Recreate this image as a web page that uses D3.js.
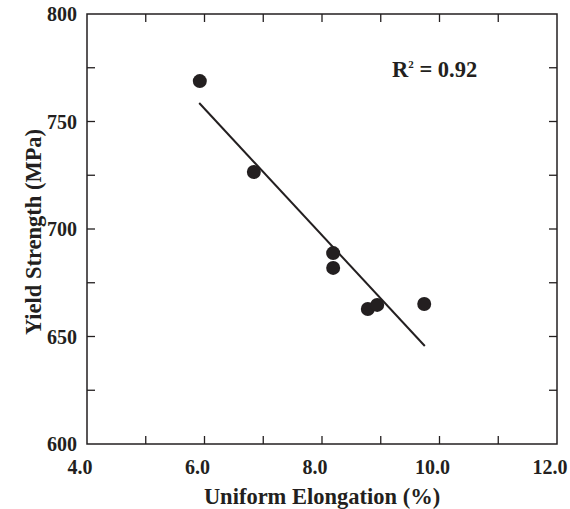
<!DOCTYPE html>
<html>
<head>
<meta charset="utf-8">
<script src="https://cdn.jsdelivr.net/npm/d3@7"></script>
<style>
  body { margin: 0; background: #fff; }
  text { font-family: "Liberation Serif", "Times New Roman", serif; font-weight: bold; fill: #231f20; }
</style>
</head>
<body>
<div id="chart"></div>
<script>
// measured points
const elongation = [5.92, 6.84, 8.19, 8.19, 8.78, 8.94, 9.74];
const yieldStrength = [768.8, 726.5, 688.8, 681.9, 662.8, 664.7, 665.1];

// linear fit as drawn
const fitX = [5.91, 9.75];
const fitY = [758.6, 645.6];

const xTicks = [4, 6, 8, 10, 12];
const xMinor = [5, 7, 9, 11];
const yTicks = [600, 650, 700, 750, 800];
const yMinor = [625, 675, 725, 775];

const width = 570;
const height = 509;
const margin = { top: 14, right: 13, bottom: 65, left: 87 };
const ink = '#231f20';

const svg = d3.select('#chart')
    .append('svg')
        .attr('width', width)
        .attr('height', height);

const x = d3.scaleLinear()
    .domain([4, 12])
    .range([margin.left, width - margin.right]);

const y = d3.scaleLinear()
    .domain([600, 800])
    .range([height - margin.bottom, margin.top]);

const x0 = x.range()[0], x1 = x.range()[1];
const y0 = y.range()[0], y1 = y.range()[1];

// frame
svg.append('rect')
    .attr('x', x0)
    .attr('y', y1)
    .attr('width', x1 - x0)
    .attr('height', y0 - y1)
    .attr('fill', 'none')
    .attr('stroke', ink)
    .attr('stroke-width', 1.5);

// inward ticks on all four sides
const tickLen = 8;
const allX = xTicks.concat(xMinor).filter(v => v > 4 && v < 12);
const allY = yTicks.concat(yMinor).filter(v => v > 600 && v < 800);

svg.append('g').selectAll('line')
    .data(allX)
    .join('line')
        .attr('x1', d => x(d)).attr('x2', d => x(d))
        .attr('y1', y0).attr('y2', y0 - tickLen)
        .attr('stroke', ink).attr('stroke-width', 1.3);

svg.append('g').selectAll('line')
    .data(allX)
    .join('line')
        .attr('x1', d => x(d)).attr('x2', d => x(d))
        .attr('y1', y1).attr('y2', y1 + tickLen)
        .attr('stroke', ink).attr('stroke-width', 1.3);

svg.append('g').selectAll('line')
    .data(allY)
    .join('line')
        .attr('x1', x0).attr('x2', x0 + tickLen)
        .attr('y1', d => y(d)).attr('y2', d => y(d))
        .attr('stroke', ink).attr('stroke-width', 1.3);

svg.append('g').selectAll('line')
    .data(allY)
    .join('line')
        .attr('x1', x1).attr('x2', x1 - tickLen)
        .attr('y1', d => y(d)).attr('y2', d => y(d))
        .attr('stroke', ink).attr('stroke-width', 1.3);

// tick labels
svg.append('g').selectAll('text')
    .data(xTicks)
    .join('text')
        .attr('x', d => x(d) - 7)
        .attr('y', y0 + 30)
        .attr('text-anchor', 'middle')
        .attr('font-size', 20)
        .text(d => d.toFixed(1));

svg.append('g').selectAll('text')
    .data(yTicks)
    .join('text')
        .attr('x', x0 - 10)
        .attr('y', d => y(d) + 7)
        .attr('text-anchor', 'end')
        .attr('font-size', 20)
        .text(d => d);

// axis titles
svg.append('text')
    .attr('x', (x0 + x1) / 2)
    .attr('y', 504)
    .attr('text-anchor', 'middle')
    .attr('font-size', 22.5)
    .text('Uniform Elongation (%)');

svg.append('text')
    .attr('transform', `translate(41, ${(y0 + y1) / 2 + 3}) rotate(-90)`)
    .attr('text-anchor', 'middle')
    .attr('font-size', 22.5)
    .text('Yield Strength (MPa)');

// fit line
svg.append('line')
    .attr('x1', x(fitX[0])).attr('y1', y(fitY[0]))
    .attr('x2', x(fitX[1])).attr('y2', y(fitY[1]))
    .attr('stroke', ink)
    .attr('stroke-width', 2);

// points
svg.append('g').selectAll('circle')
    .data(elongation)
    .join('circle')
        .attr('cx', d => x(d))
        .attr('cy', (d, i) => y(yieldStrength[i]))
        .attr('r', 7)
        .attr('fill', ink);

// R squared note
const r2 = svg.append('text')
    .attr('x', 392)
    .attr('y', 77)
    .attr('font-size', 22.5);
r2.append('tspan').text('R');
r2.append('tspan').attr('font-size', 11).attr('dy', -9).text('2');
r2.append('tspan').attr('dy', 9).text(' = 0.92');
</script>
</body>
</html>
